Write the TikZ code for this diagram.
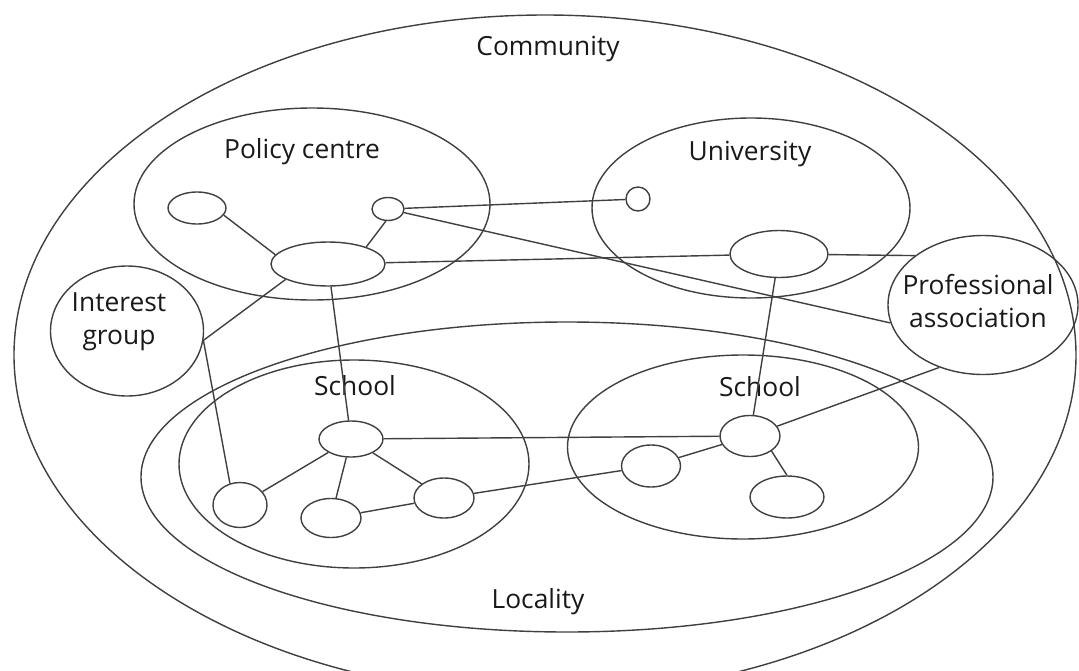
\documentclass[tikz,border=0pt]{standalone}
\usepackage{fontspec}
\setmainfont{Open Sans}
\usetikzlibrary{shapes.geometric}

\tikzset{
  unit/.style={draw, ellipse, inner sep=0pt},
  lbl/.style={font=\fontsize{15}{19}\selectfont, align=center, text=black!90},
}

\begin{document}
\begin{tikzpicture}[line width=0.8pt, draw=black!75]
  \useasboundingbox (0,0) rectangle (21.58,-13.42);

  % containers
  \draw (10.9,-7.1) ellipse [x radius=10.62, y radius=6.8];
  \draw (11.34,-9.54) ellipse [x radius=8.52, y radius=3.1];
  \draw (6.24,-4.08) ellipse [x radius=3.56, y radius=1.92];
  \draw (15.02,-4.16) ellipse [x radius=3.18, y radius=1.8];
  \draw (7.08,-9.28) ellipse [x radius=3.5, y radius=2.08];
  \draw (14.86,-8.94) ellipse [x radius=3.51, y radius=1.84];

  \node[lbl] (community) at (10.96,-0.98) {Community};
  \node[lbl] (policy) at (6.04,-3.04) {Policy centre};
  \node[lbl] (univ) at (15.0,-3.08) {University};
  \node[lbl] (schoolL) at (7.1,-7.72) {School};
  \node[lbl] (schoolR) at (15.2,-7.74) {School};
  \node[lbl] (locality) at (10.76,-12.04) {Locality};

  % outside bodies
  \node[unit, minimum width=3.06cm, minimum height=2.6cm] (ig) at (2.54,-6.62) {};
  \node[lbl] at (2.38,-6.44) {Interest\\group};
  \node[unit, minimum width=3.8cm, minimum height=2.78cm] (pa) at (19.66,-6.1) {};
  \node[lbl] at (19.56,-6.02) {Professional\\association};

  % policy centre
  \node[unit, minimum width=1.16cm, minimum height=0.64cm] (pcA) at (3.94,-4.16) {};
  \node[unit, minimum width=0.64cm, minimum height=0.46cm] (pcB) at (7.76,-4.18) {};
  \node[unit, minimum width=2.28cm, minimum height=0.88cm] (pcHub) at (6.56,-5.28) {};

  % university
  \node[unit, minimum width=0.48cm, minimum height=0.48cm] (uA) at (12.76,-3.98) {};
  \node[unit, minimum width=1.96cm, minimum height=0.94cm] (uHub) at (15.58,-5.08) {};

  % left school
  \node[unit, minimum width=1.28cm, minimum height=0.72cm] (s1Hub) at (7.02,-8.78) {};
  \node[unit, minimum width=1.08cm, minimum height=0.9cm] (s1A) at (4.8,-10.1) {};
  \node[unit, minimum width=1.2cm, minimum height=0.78cm] (s1B) at (6.62,-10.36) {};
  \node[unit, minimum width=1.2cm, minimum height=0.8cm] (s1C) at (8.88,-9.96) {};

  % right school
  \node[unit, minimum width=1.2cm, minimum height=0.82cm] (s2Hub) at (15.0,-8.72) {};
  \node[unit, minimum width=1.18cm, minimum height=0.84cm] (s2A) at (13.02,-9.32) {};
  \node[unit, minimum width=1.48cm, minimum height=0.84cm] (s2B) at (15.74,-9.94) {};

  \draw (pcA.-15) -- (pcHub.170);
  \draw (pcB.-100) -- (pcHub.24);
  \draw (pcB) -- (uA);
  \draw (pcB) -- (pa.191);
  \draw (pcHub) -- (uHub) -- (pa.144);
  \draw (pcHub.200) -- (ig.-7) -- (s1A.115);
  \draw (pcHub) -- (s1Hub);
  \draw (uHub) -- (s2Hub) -- (pa.235);
  \draw (s1Hub) -- (s2Hub);
  \draw (s1A) -- (s1Hub) -- (s1B) -- (s1C) -- (s1Hub);
  \draw (s1C) -- (s2A) -- (s2Hub);
  \draw (s2Hub.-35) -- (s2B.north);
\end{tikzpicture}
\end{document}
